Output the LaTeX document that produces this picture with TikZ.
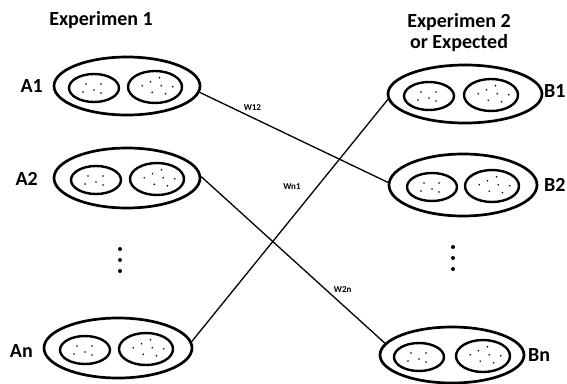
\documentclass[tikz,border=0pt]{standalone}
\usepackage{fontspec}
\setmainfont{Carlito}
\usetikzlibrary{shapes.geometric}

\tikzset{
  rim/.style={draw, ellipse, line width=2.7pt, inner sep=0pt},
  cellL/.style={draw, ellipse, line width=2.4pt, inner sep=0pt,
    minimum width=50pt, minimum height=28pt},
  cellR/.style={draw, ellipse, line width=2.4pt, inner sep=0pt,
    minimum width=54pt, minimum height=32pt},
  head/.style={font=\bfseries\fontsize{20}{21}\selectfont, inner sep=0pt, align=center},
  tag/.style={font=\bfseries\fontsize{20}{22}\selectfont, inner sep=0pt},
  wlab/.style={font=\bfseries\fontsize{9}{10}\selectfont, inner sep=0pt},
  link/.style={line width=1.3pt},
  seed/.style={fill=black}
}

% #1 name, (#2,#3) centre of the outer ring, #4/#5 its half axes,
% #6/#7 x centres of the two inner cells
\newcommand\cluster[7]{%
  \node[rim, minimum width=#4*2pt, minimum height=#5*2pt] (#1) at (#2,#3) {};
  \node[cellL] (#1l) at (#6,#3+2) {};
  \node[cellR] (#1r) at (#7,#3+1) {};
  \foreach \dx/\dy in {-8/-4, 7/-4, -11/4, 0/2, 7/5}
    \fill[seed] (#6+\dx,#3+2+\dy) circle (0.9pt);
  \foreach \dx/\dy in {4.5/-8.3, -4.5/-4.3, -12.8/-0.3, 6.2/-0.3, 17.8/0.7, -2.8/6.3, 10.5/7.7}
    \fill[seed] (#7+\dx,#3+\dy) circle (0.9pt);
}

\begin{document}
\begin{tikzpicture}[x=1pt,y=-1pt]
  \useasboundingbox (0,0) rectangle (567,383);

  % column headings
  \node[head] (h1) at (101,20) {Experimen 1};
  \node[head, anchor=north] (h2) at (459,13) {Experimen 2\\or Expected};

  % left column
  \cluster{A1}{127}{86}{73}{29}{94}{155}
  \cluster{A2}{127}{178}{73}{30}{96}{157}
  \cluster{An}{118}{348}{74}{30}{85}{146}

  % right column
  \cluster{B1}{465}{94}{77}{29}{429}{491}
  \cluster{B2}{463}{185}{74}{31}{432}{492}
  \cluster{Bn}{452}{355}{72}{28}{419}{483}

  % names of the clusters
  \node[tag, anchor=east] (nA1) at (43,86) {A1};
  \node[tag, anchor=east] (nA2) at (38,179) {A2};
  \node[tag, anchor=east] (nAn) at (33,351) {An};
  \node[tag, anchor=west] (nB1) at (544,91) {B1};
  \node[tag, anchor=west] (nB2) at (544,185) {B2};
  \node[tag, anchor=west] (nBn) at (528,355) {Bn};

  % vertical ellipses
  \foreach \yy in {249,260,271} \fill (120,\yy) circle (2pt);
  \foreach \yy in {247,258,269} \fill (453,\yy) circle (2pt);

  % weighted links
  \draw[link] (A1.-5) -- node[wlab, pos=0.28, above=6pt] {W12} (B2.178);
  \draw[link] (An.5) -- node[wlab, pos=0.64, left=16pt] {Wn1} (B1.184);
  \draw[link] (A2.1) -- node[wlab, pos=0.77, above=12pt] {W2n} (Bn.170);
\end{tikzpicture}
\end{document}
